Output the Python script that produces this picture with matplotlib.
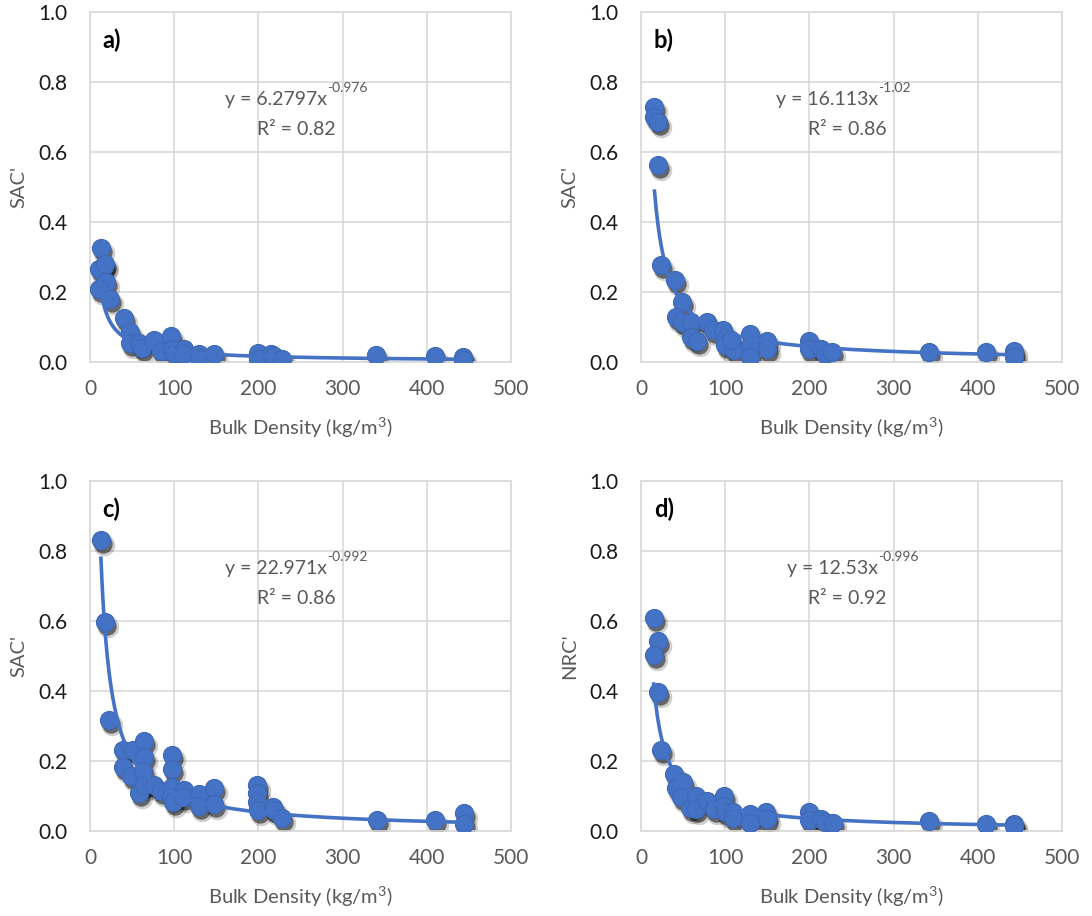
import numpy as np
import matplotlib.pyplot as plt
from matplotlib.transforms import offset_copy

plt.rcParams['font.family'] = ['Lato', 'DejaVu Sans']
plt.rcParams['mathtext.default'] = 'regular'

# panel a) SAC' vs bulk density
bd_a = [13, 17, 11, 18, 19, 11, 24, 40, 48, 48, 58, 62, 76, 84, 96, 97, 100, 112, 110,
        130, 130, 147, 199, 199, 215, 219, 228, 340, 410, 443, 443]
sac_a = [0.327, 0.275, 0.266, 0.28, 0.228, 0.21, 0.18, 0.125, 0.087, 0.055, 0.055, 0.04,
         0.064, 0.031, 0.073, 0.036, 0.022, 0.036, 0.022, 0.022, 0.008, 0.022, 0.026,
         0.008, 0.022, 0.017, 0.01, 0.02, 0.016, 0.014, 0.007]

# panel b) SAC'
bd_b = [16, 16, 20, 20, 24, 40, 49, 41, 49, 59, 59, 66, 78, 86, 97, 100, 100, 110, 107,
        129, 130, 129, 150, 150, 199, 199, 214, 218, 227, 342, 410, 443, 443]
sac_b = [0.729, 0.70, 0.686, 0.562, 0.276, 0.235, 0.171, 0.13, 0.114, 0.114, 0.071, 0.06,
         0.114, 0.092, 0.092, 0.067, 0.048, 0.035, 0.062, 0.081, 0.045, 0.014, 0.06, 0.038,
         0.06, 0.038, 0.038, 0.024, 0.029, 0.028, 0.028, 0.031, 0.015]

# panel c) SAC'
bd_c = [13, 18, 22, 39, 51, 64, 64, 39, 49, 63, 58, 64, 76, 84, 97, 97, 97, 96, 99, 112,
        110, 130, 130, 147, 147, 198, 198, 198, 199, 217, 219, 228, 341, 410, 444, 444]
sac_c = [0.83, 0.597, 0.318, 0.232, 0.232, 0.258, 0.21, 0.182, 0.157, 0.172, 0.109, 0.131,
         0.131, 0.115, 0.217, 0.176, 0.126, 0.098, 0.083, 0.117, 0.098, 0.107, 0.071, 0.122,
         0.078, 0.131, 0.109, 0.083, 0.059, 0.069, 0.059, 0.037, 0.032, 0.032, 0.051, 0.019]

# panel d) NRC'
bd_d = [15, 20, 15, 20, 24, 39, 50, 41, 48, 58, 65, 65, 78, 87, 98, 98, 100, 109, 109,
        130, 130, 149, 150, 199, 199, 214, 218, 228, 342, 410, 443, 443]
nrc_d = [0.608, 0.544, 0.502, 0.397, 0.23, 0.163, 0.139, 0.124, 0.096, 0.067, 0.1, 0.062,
         0.086, 0.062, 0.1, 0.072, 0.053, 0.053, 0.038, 0.048, 0.024, 0.053, 0.033, 0.053,
         0.031, 0.033, 0.027, 0.024, 0.028, 0.021, 0.021, 0.014]

# power trendlines as drawn in the chart: y = coef * x^expo
trend_a = (2.1, -0.915)
trend_b = (6.8, -0.95)
trend_c = (9.5, -0.975)
trend_d = (5.5, -0.95)

panels = [
    ('a)', "SAC'", bd_a, sac_a, trend_a, 'y = 6.2797x', '-0.976', 'R² = 0.82'),
    ('b)', "SAC'", bd_b, sac_b, trend_b, 'y = 16.113x', '-1.02', 'R² = 0.86'),
    ('c)', "SAC'", bd_c, sac_c, trend_c, 'y = 22.971x', '-0.992', 'R² = 0.86'),
    ('d)', "NRC'", bd_d, nrc_d, trend_d, 'y = 12.53x', '-0.996', 'R² = 0.92'),
]

blue = '#4472C4'
grey = '#d9d9d9'
txt = '#595959'

fig = plt.figure(figsize=(10.92, 9.16), dpi=100)
boxes = [(0.0824, 0.6048), (0.587, 0.6048), (0.0824, 0.0928), (0.587, 0.0928)]

for (left, bottom), (tag, ylab, x, y, tr, eq, ex, r2) in zip(boxes, panels):
    ax = fig.add_axes([left, bottom, 0.3855, 0.3821])
    x = np.array(x, dtype=float)
    y = np.array(y, dtype=float)

    # blurred-looking shadow under the markers
    sh1 = offset_copy(ax.transData, fig=fig, x=2, y=-4, units='dots')
    sh2 = offset_copy(ax.transData, fig=fig, x=3, y=-5, units='dots')
    ax.scatter(x, y, s=240, color='#101010', alpha=0.2, lw=0, transform=sh2, zorder=2)
    ax.scatter(x, y, s=175, color='#101010', alpha=0.55, lw=0, transform=sh1, zorder=2)
    ax.scatter(x, y, s=170, color=blue, edgecolor='#3f69b5', lw=0.8, zorder=3)

    coef, expo = tr
    xs = np.linspace(x.min(), x.max(), 400)
    ax.plot(xs, coef * xs ** expo, color=blue, lw=2.6, zorder=4)

    ax.set_xlim(0, 500)
    ax.set_ylim(0, 1.0)
    ax.set_xticks(np.arange(0, 501, 100))
    ax.set_yticks(np.arange(0, 1.01, 0.2))
    ax.yaxis.set_major_formatter(plt.FormatStrFormatter('%.1f'))
    ax.grid(True, color=grey, lw=1.2)
    ax.set_axisbelow(True)
    for sp in ax.spines.values():
        sp.set_color(grey)
        sp.set_linewidth(1.2)
    ax.tick_params(length=0, labelsize=15, colors='#1a1a1a')
    ax.tick_params(axis='y', pad=16)
    ax.tick_params(axis='x', pad=12, labelcolor=txt)
    ax.set_xlabel('Bulk Density (kg/m$^{3}$)', fontsize=14.5, color=txt, labelpad=12)
    ax.set_ylabel(ylab, fontsize=14.5, color=txt, labelpad=8)

    ax.text(15, 0.92, tag, fontsize=17, fontweight='bold', color='black', va='center')
    # equation: base text right-aligned at the join, exponent as a raised small text
    ax.text(282, 0.75, eq, fontsize=14, color=txt, ha='right', va='center')
    ax.text(282, 0.765, ex, fontsize=10, color=txt, ha='left', va='bottom')
    ax.text(245, 0.665, r2, fontsize=14, color=txt, ha='center', va='center')

fig.savefig('out.png', dpi=100)
